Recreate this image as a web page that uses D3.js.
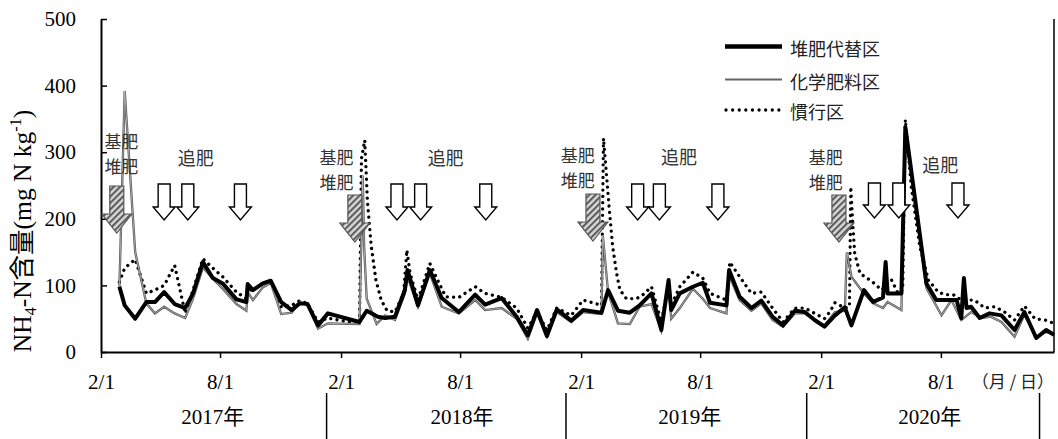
<!DOCTYPE html>
<html>
<head>
<meta charset="utf-8">
<script src="https://cdn.jsdelivr.net/npm/d3@7"></script>
<style>
  body { margin: 0; background: #fff; }
  svg { display: block; }
</style>
</head>
<body>
<svg id="chart" width="1058" height="439"></svg>
<script>
// ---- Soil NH4-N content, sampled 2017-2020 ----
const compostDates = ["2017-03-01","2017-03-09","2017-03-25","2017-04-11","2017-04-24","2017-05-08","2017-05-24","2017-06-09","2017-06-21","2017-07-06","2017-07-21","2017-08-05","2017-08-26","2017-09-10","2017-09-12","2017-09-20","2017-10-05","2017-10-17","2017-11-02","2017-11-18","2017-11-30","2017-12-12","2017-12-28","2018-01-12","2018-03-01","2018-03-12","2018-03-29","2018-04-09","2018-04-24","2018-05-09","2018-05-13","2018-05-29","2018-06-16","2018-07-04","2018-07-30","2018-08-24","2018-09-08","2018-10-03","2018-10-26","2018-11-12","2018-11-26","2018-12-11","2018-12-26","2019-01-17","2019-02-04","2019-03-04","2019-03-14","2019-03-29","2019-04-16","2019-05-01","2019-05-19","2019-06-03","2019-06-14","2019-06-18","2019-07-01","2019-07-21","2019-08-05","2019-08-16","2019-09-10","2019-09-14","2019-09-30","2019-10-18","2019-11-02","2019-11-19","2019-12-05","2019-12-23","2020-01-07","2020-01-22","2020-02-06","2020-02-22","2020-03-08","2020-03-18","2020-04-06","2020-04-20","2020-05-05","2020-05-09","2020-05-12","2020-06-02","2020-06-08","2020-07-10","2020-07-25","2020-08-25","2020-09-01","2020-09-05","2020-09-09","2020-09-16","2020-09-29","2020-10-14","2020-11-01","2020-11-21","2020-12-06","2020-12-24","2021-01-08","2021-01-20"];
const compostValues = [98,70,50,75,75,90,72,66,88,135,111,103,79,75,102,93,103,107,75,63,73,72,40,58,45,62,53,51,53,93,123,70,123,81,60,86,71,81,53,25,63,24,64,47,63,59,93,62,59,70,88,33,108,63,88,98,104,74,70,123,83,66,77,53,40,62,60,48,38,55,67,40,93,75,82,135,88,88,338,103,78,78,51,111,66,68,51,58,55,33,60,21,33,26];

const chemDates = ["2017-03-01","2017-03-09","2017-03-25","2017-04-11","2017-04-24","2017-05-08","2017-05-24","2017-06-09","2017-06-21","2017-07-06","2017-07-21","2017-08-05","2017-08-26","2017-09-10","2017-09-12","2017-09-20","2017-10-05","2017-10-17","2017-11-02","2017-11-18","2017-11-30","2017-12-12","2017-12-28","2018-01-12","2018-03-01","2018-03-06","2018-03-08","2018-03-12","2018-03-27","2018-04-09","2018-04-24","2018-05-09","2018-05-13","2018-05-29","2018-06-16","2018-07-04","2018-07-30","2018-08-24","2018-09-08","2018-10-03","2018-10-26","2018-11-12","2018-11-26","2018-12-11","2018-12-26","2019-01-17","2019-02-04","2019-03-04","2019-03-06","2019-03-14","2019-03-29","2019-04-16","2019-05-01","2019-05-19","2019-06-03","2019-06-14","2019-06-18","2019-07-01","2019-07-21","2019-08-05","2019-08-16","2019-09-10","2019-09-14","2019-09-30","2019-10-18","2019-11-02","2019-11-19","2019-12-05","2019-12-23","2020-01-07","2020-01-22","2020-02-06","2020-02-22","2020-03-08","2020-03-11","2020-03-18","2020-04-06","2020-04-20","2020-05-05","2020-05-12","2020-06-02","2020-06-08","2020-07-10","2020-08-02","2020-08-17","2020-09-01","2020-09-16","2020-10-02","2020-10-16","2020-11-01","2020-11-21","2020-12-06","2020-12-24","2021-01-08","2021-01-20"];
const chemValues = [98,392,150,73,58,68,58,51,80,127,110,95,72,62,90,78,97,104,57,59,75,71,35,43,42,265,160,80,42,55,48,88,113,68,118,68,58,78,63,66,50,20,58,23,60,45,60,57,175,90,43,42,68,72,32,100,50,66,95,80,66,58,115,78,62,73,48,38,58,58,48,40,60,62,150,113,88,73,66,75,63,330,96,55,78,48,60,51,53,45,23,56,23,30,26];

const convDates = ["2017-03-01","2017-03-09","2017-03-25","2017-04-11","2017-04-24","2017-05-08","2017-05-24","2017-06-09","2017-06-21","2017-07-06","2017-07-21","2017-08-05","2017-08-26","2017-09-10","2017-09-12","2017-09-20","2017-10-05","2017-10-17","2017-11-02","2017-11-18","2017-11-30","2017-12-12","2017-12-28","2018-01-12","2018-03-01","2018-03-04","2018-03-09","2018-03-13","2018-03-19","2018-03-26","2018-04-03","2018-04-12","2018-04-24","2018-05-07","2018-05-12","2018-05-17","2018-05-29","2018-06-16","2018-06-23","2018-07-10","2018-07-30","2018-08-24","2018-09-08","2018-10-03","2018-10-26","2018-11-12","2018-11-26","2018-12-11","2018-12-26","2019-01-17","2019-02-04","2019-02-22","2019-03-04","2019-03-07","2019-03-11","2019-03-16","2019-03-21","2019-03-27","2019-04-01","2019-04-11","2019-04-26","2019-05-06","2019-05-19","2019-06-03","2019-06-14","2019-06-18","2019-07-01","2019-07-21","2019-08-05","2019-08-16","2019-09-10","2019-09-15","2019-09-30","2019-10-18","2019-11-02","2019-11-19","2019-12-05","2019-12-23","2020-01-07","2020-01-22","2020-02-06","2020-02-14","2020-02-22","2020-03-08","2020-03-15","2020-03-17","2020-03-20","2020-03-23","2020-03-31","2020-04-18","2020-05-03","2020-05-18","2020-05-28","2020-06-04","2020-06-08","2020-06-17","2020-06-30","2020-07-13","2020-07-28","2020-08-07","2020-08-20","2020-09-01","2020-09-21","2020-10-07","2020-10-22","2020-11-06","2020-11-21","2020-12-06","2020-12-22","2021-01-06","2021-01-20"];
const convValues = [105,126,139,88,93,100,130,58,93,140,126,113,90,80,93,93,103,107,68,70,77,73,45,51,42,290,318,228,158,108,78,62,60,88,153,118,78,133,118,83,82,98,88,82,66,36,60,33,66,55,78,73,70,321,273,213,158,118,93,80,80,86,98,45,100,70,98,120,111,88,78,135,113,88,90,66,45,66,66,58,50,60,74,66,68,248,193,148,118,106,93,108,88,93,349,248,158,108,90,86,86,78,78,66,68,60,48,69,50,48,43];

// Fertilizer applications (arrows) and their captions
const basalDates = ["2017-02-25","2018-02-22","2019-02-19","2020-02-28"];
const basalLabelDates = ["2017-03-04","2018-01-25","2019-01-27","2020-02-08"];
const topDressDates = ["2017-05-08","2017-06-13","2017-09-01","2018-04-27","2018-06-02","2018-09-09","2019-04-28","2019-05-31","2019-08-28","2020-04-22","2020-05-29","2020-08-27"];
const topDressLabelDates = ["2017-06-25","2018-07-10","2019-06-30","2020-07-31"];

// Axis labels
const xTickDates = ["2017-02-01","2017-08-01","2018-02-01","2018-08-01","2019-02-01","2019-08-01","2020-02-01","2020-08-01"];
const yTicks = [0,100,200,300,400,500];
const yearLabels = ["2017年","2018年","2019年","2020年"];
const yearLabelDates = ["2017-07-21","2018-08-04","2019-07-16","2020-07-15"];
const yearDividerDates = ["2018-01-10","2019-01-09","2020-01-10","2020-12-29"];
const seriesNames = ["堆肥代替区","化学肥料区","慣行区"];

const parse = d3.utcParse("%Y-%m-%d");
const svg = d3.select("#chart");
const serif = "'Liberation Serif','Times New Roman','Noto Sans CJK JP',serif";
const gothic = "'Noto Sans CJK JP','Noto Sans',sans-serif";

const margin = {left: 101, right: 1054, top: 19, bottom: 352};
const x = d3.scaleUtc().domain([parse("2017-02-01"), parse("2021-01-20")]).range([margin.left, margin.right]);
const y = d3.scaleLinear().domain([0, 500]).range([margin.bottom, margin.top]);

const defs = svg.append("defs");
const pat = defs.append("pattern")
  .attr("id", "hatch").attr("patternUnits", "userSpaceOnUse")
  .attr("width", 4.5).attr("height", 4.5)
  .attr("patternTransform", "rotate(45)");
pat.append("rect").attr("width", 4.5).attr("height", 4.5).attr("fill", "#d6d6d6");
pat.append("rect").attr("width", 2).attr("height", 4.5).attr("fill", "#5a5a5a");

const zip = (ds, vs) => ds.map((d, i) => ({date: parse(d), value: vs[i]}));
const line = d3.line().x(d => x(d.date)).y(d => y(d.value));

// Series
const plot = svg.append("g");
plot.append("path").datum(zip(convDates, convValues))
  .attr("d", line).attr("fill", "none").attr("stroke", "#000")
  .attr("stroke-width", 3.3).attr("stroke-linecap", "round")
  .attr("stroke-dasharray", "0.01 6.3");
const chem = zip(chemDates, chemValues);
plot.append("path").datum(chem)
  .attr("d", line).attr("fill", "none").attr("stroke", "#555")
  .attr("stroke-width", 2.3).attr("stroke-linejoin", "miter");
plot.append("path").datum(chem)
  .attr("d", line).attr("fill", "none").attr("stroke", "#c8c8c8")
  .attr("stroke-width", 0.7);
plot.append("path").datum(zip(compostDates, compostValues))
  .attr("d", line).attr("fill", "none").attr("stroke", "#000")
  .attr("stroke-width", 4).attr("stroke-linejoin", "round");

// Axes
const xAxis = svg.append("g").attr("transform", `translate(0,${margin.bottom})`)
  .call(d3.axisBottom(x).tickValues(xTickDates.map(parse))
    .tickFormat(d3.utcFormat("%-m/%-d")).tickSizeInner(6).tickSizeOuter(0).tickPadding(16));
const yAxis = svg.append("g").attr("transform", `translate(${margin.left},0)`)
  .call(d3.axisLeft(y).tickValues(yTicks).tickSizeInner(-6).tickSizeOuter(0).tickPadding(25));
[xAxis, yAxis].forEach(g => {
  g.select(".domain").attr("stroke", "#000").attr("stroke-width", 2);
  g.selectAll(".tick line").attr("stroke", "#000").attr("stroke-width", 1.5);
  g.selectAll(".tick text").attr("font-family", serif).attr("font-size", 21).attr("fill", "#000");
});
// right frame
svg.append("line").attr("x1", margin.right).attr("x2", margin.right)
  .attr("y1", margin.top).attr("y2", margin.bottom)
  .attr("stroke", "#000").attr("stroke-width", 1.5);

// Unit caption
svg.append("text").attr("x", 1054).attr("y", 388).attr("text-anchor", "end")
  .attr("font-family", gothic).attr("font-size", 17).attr("fill", "#222")
  .text("（月 / 日）");

// Year row
svg.append("g").selectAll("line").data(yearDividerDates).join("line")
  .attr("x1", d => x(parse(d))).attr("x2", d => x(parse(d)))
  .attr("y1", 393).attr("y2", 439).attr("stroke", "#000").attr("stroke-width", 1.5);
svg.append("g").selectAll("text").data(yearLabels).join("text")
  .attr("x", (d, i) => x(parse(yearLabelDates[i]))).attr("y", 424)
  .attr("text-anchor", "middle").attr("font-family", serif).attr("font-size", 21)
  .text(d => d);

// Y title
const yt = svg.append("text")
  .attr("transform", "translate(31,231) rotate(-90)")
  .attr("text-anchor", "middle").attr("font-family", serif).attr("font-size", 25.5);
yt.append("tspan").text("NH");
yt.append("tspan").attr("font-size", 16).attr("dy", 5).text("4");
yt.append("tspan").attr("dy", -5).text("-N含量(mg N kg");
yt.append("tspan").attr("font-size", 16).attr("dy", -10).text("-1");
yt.append("tspan").attr("dy", 10).text(")");

// Arrows
function arrowPath(cx, top, tip, shaftW, headW, headH) {
  const hb = tip - headH;
  return `M${cx - shaftW / 2},${top}L${cx + shaftW / 2},${top}L${cx + shaftW / 2},${hb}` +
         `L${cx + headW / 2},${hb}L${cx},${tip}L${cx - headW / 2},${hb}L${cx - shaftW / 2},${hb}Z`;
}
const basalTop = [186, 195, 194, 195];
svg.append("g").selectAll("path").data(basalDates).join("path")
  .attr("d", (d, i) => arrowPath(x(parse(d)), basalTop[i], basalTop[i] + 47, 14, 30, 19))
  .attr("fill", "url(#hatch)").attr("stroke", "#555").attr("stroke-width", 1.2);
svg.append("g").selectAll("path").data(topDressDates).join("path")
  .attr("d", (d, i) => arrowPath(x(parse(d)), i >= 9 ? 183 : 184, i >= 9 ? 218 : 220, 12, 22, 13))
  .attr("fill", "#fff").attr("stroke", "#000").attr("stroke-width", 1.4);

// Captions (two-line caption for basal dressing + compost)
const capY = [148, 164, 162, 164];
const cap = svg.append("g").attr("font-family", gothic).attr("font-size", 17)
  .attr("fill", "#333").attr("text-anchor", "middle");
basalLabelDates.forEach((d, i) => {
  const cx = x(parse(d));
  cap.append("text").attr("x", cx).attr("y", capY[i]).text("基肥");
  cap.append("text").attr("x", cx).attr("y", capY[i] + 25).text("堆肥");
});
const tdY = [165, 165, 164, 172];
topDressLabelDates.forEach((d, i) => {
  cap.append("text").attr("x", x(parse(d))).attr("y", tdY[i]).attr("font-size", 18).text("追肥");
});

// Legend
const lg = svg.append("g");
const rows = [46.5, 79.5, 110];
lg.append("line").attr("x1", 725).attr("x2", 782).attr("y1", rows[0]).attr("y2", rows[0])
  .attr("stroke", "#000").attr("stroke-width", 4.5);
lg.append("line").attr("x1", 725).attr("x2", 782).attr("y1", rows[1]).attr("y2", rows[1])
  .attr("stroke", "#666").attr("stroke-width", 2);
lg.append("line").attr("x1", 726).attr("x2", 782).attr("y1", rows[2]).attr("y2", rows[2])
  .attr("stroke", "#000").attr("stroke-width", 3.3).attr("stroke-linecap", "round")
  .attr("stroke-dasharray", "0.01 6.6");
lg.selectAll("text").data(seriesNames).join("text")
  .attr("x", 790).attr("y", (d, i) => rows[i] + 9)
  .attr("font-family", gothic).attr("font-size", 18).attr("fill", "#222")
  .text(d => d);
</script>
</body>
</html>
